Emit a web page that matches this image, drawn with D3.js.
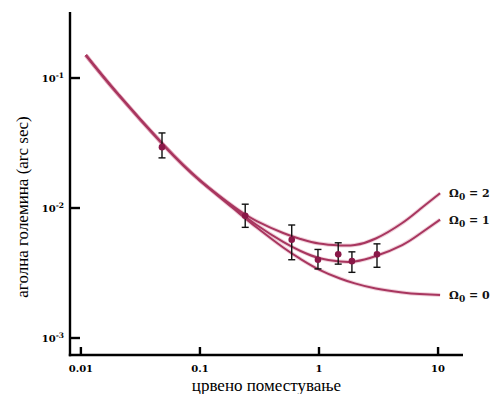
<!DOCTYPE html>
<html>
<head>
<meta charset="utf-8">
<script src="https://cdn.jsdelivr.net/npm/d3@7"></script>
<style>
  body { margin: 0; background: #fff; }
  svg { display: block; }
</style>
</head>
<body>
<script>
// redshift samples
const zCurve = [0.011, 0.02, 0.05, 0.1, 0.2, 0.3, 0.5, 0.7, 1, 1.5, 2, 3, 5, 7, 10.4];
const omega2 = [0.150, 0.0771, 0.0302, 0.0163, 0.0100, 0.00794, 0.00642, 0.00578, 0.00533, 0.00515, 0.00519, 0.00583, 0.00767, 0.00974, 0.0130];
const omega1 = [0.150, 0.0771, 0.0302, 0.0163, 0.00982, 0.00740, 0.00548, 0.00467, 0.00412, 0.00388, 0.00388, 0.00427, 0.00519, 0.00631, 0.00815];
const omega0 = [0.150, 0.0771, 0.0302, 0.0163, 0.00957, 0.00708, 0.00497, 0.00405, 0.00336, 0.00287, 0.00263, 0.00240, 0.00224, 0.00218, 0.00214];
const curveNames = ["2", "1", "0"];

// measured points with error bars
const zObs = [0.048, 0.24, 0.59, 0.98, 1.45, 1.89, 3.07];
const thetaObs = [0.0294, 0.0087, 0.0057, 0.0040, 0.0044, 0.0039, 0.0044];
const thetaLo = [0.0243, 0.0071, 0.0040, 0.0034, 0.0037, 0.0032, 0.0035];
const thetaHi = [0.0378, 0.0107, 0.0074, 0.0048, 0.0054, 0.0046, 0.0053];

const xTicks = [0.01, 0.1, 1, 10];
const xTickLabels = ["0.01", "0.1", "1", "10"];
const yTicks = [0.1, 0.01, 0.001];
const yTickExp = ["-1", "-2", "-3"];

const width = 494, height = 394;

let svg = d3.select("body").append("svg")
    .attr("width", width)
    .attr("height", height);

let x = d3.scaleLog()
    .domain([0.0081, 16.2])
    .range([70, 463]);

let y = d3.scaleLog()
    .domain([0.00074, 0.322])
    .range([355, 12]);

const curveColor = "#a8365f";
const pointColor = "#8a1848";

// curves
let series = [omega2, omega1, omega0];
let line = d3.line()
    .x((d, i) => x(zCurve[i]))
    .y(d => y(d))
    .curve(d3.curveNatural);

let curves = svg.append("g").attr("class", "curves");
curves.selectAll("path.halo")
    .data(series)
    .enter()
    .append("path")
    .attr("class", "halo")
    .attr("d", line)
    .attr("fill", "none")
    .attr("stroke", "#d47a98")
    .attr("stroke-opacity", 0.35)
    .attr("stroke-width", 4);
curves.selectAll("path.main")
    .data(series)
    .enter()
    .append("path")
    .attr("class", "main")
    .attr("d", line)
    .attr("fill", "none")
    .attr("stroke", curveColor)
    .attr("stroke-width", 2);

// error bars
let bars = svg.append("g").attr("class", "errors")
    .attr("stroke", "#111")
    .attr("stroke-width", 1.4);
zObs.forEach((z, i) => {
    let cx = x(z);
    bars.append("line")
        .attr("x1", cx).attr("x2", cx)
        .attr("y1", y(thetaLo[i])).attr("y2", y(thetaHi[i]));
    [thetaLo[i], thetaHi[i]].forEach(v => {
        bars.append("line")
            .attr("x1", cx - 3.5).attr("x2", cx + 3.5)
            .attr("y1", y(v)).attr("y2", y(v));
    });
});

svg.append("g").attr("class", "points")
    .selectAll("circle")
    .data(zObs)
    .enter()
    .append("circle")
    .attr("cx", d => x(d))
    .attr("cy", (d, i) => y(thetaObs[i]))
    .attr("r", 3.3)
    .attr("fill", pointColor);

// axes
let axes = svg.append("g").attr("stroke", "#000").attr("stroke-width", 2.4);
axes.append("line")
    .attr("x1", x.range()[0]).attr("x2", x.range()[0])
    .attr("y1", y.range()[1]).attr("y2", y.range()[0] + 1.2);
axes.append("line")
    .attr("x1", x.range()[0] - 1.2).attr("x2", x.range()[1])
    .attr("y1", y.range()[0]).attr("y2", y.range()[0]);

axes.selectAll("line.xt")
    .data(xTicks)
    .enter()
    .append("line")
    .attr("class", "xt")
    .attr("x1", d => x(d)).attr("x2", d => x(d))
    .attr("y1", y.range()[0]).attr("y2", y.range()[0] - 8);

axes.selectAll("line.yt")
    .data(yTicks)
    .enter()
    .append("line")
    .attr("class", "yt")
    .attr("x1", x.range()[0]).attr("x2", x.range()[0] + 10)
    .attr("y1", d => y(d)).attr("y2", d => y(d));

const tickFont = "'DejaVu Serif', serif";

svg.append("g").selectAll("text")
    .data(xTicks)
    .enter()
    .append("text")
    .attr("x", d => x(d))
    .attr("y", 372)
    .attr("text-anchor", "middle")
    .attr("font-family", tickFont)
    .attr("font-weight", "bold")
    .attr("font-size", 10)
    .text((d, i) => xTickLabels[i]);

let yLabels = svg.append("g").selectAll("text")
    .data(yTicks)
    .enter()
    .append("text")
    .attr("x", 64)
    .attr("y", d => y(d) + 4)
    .attr("text-anchor", "end")
    .attr("font-family", tickFont)
    .attr("font-weight", "bold")
    .attr("font-size", 10);
yLabels.append("tspan").text("10");
yLabels.append("tspan")
    .attr("dy", -4)
    .attr("font-size", 7.5)
    .text((d, i) => yTickExp[i]);

// curve labels
let lastIdx = zCurve.length - 1;
let omegaLabels = svg.append("g").selectAll("text")
    .data(series)
    .enter()
    .append("text")
    .attr("x", x(zCurve[lastIdx]) + 9)
    .attr("y", d => y(d[lastIdx]) + 4)
    .attr("font-family", tickFont)
    .attr("font-weight", "bold")
    .attr("font-size", 11)
    .attr("fill", "#111");
omegaLabels.append("tspan").text("Ω");
omegaLabels.append("tspan").attr("dy", 3).attr("font-size", 9).text("0");
omegaLabels.append("tspan").attr("dy", -3).text((d, i) => " = " + curveNames[i]);

// axis titles
svg.append("text")
    .attr("x", (x.range()[0] + x.range()[1]) / 2)
    .attr("y", 391)
    .attr("text-anchor", "middle")
    .attr("font-family", "'Liberation Serif', serif")
    .attr("font-size", 17)
    .text("црвено поместување");

svg.append("text")
    .attr("transform", "translate(28," + 207 + ") rotate(-90)")
    .attr("text-anchor", "middle")
    .attr("font-family", "'Liberation Serif', serif")
    .attr("font-size", 17)
    .text("аголна големина (arc sec)");
</script>
</body>
</html>
